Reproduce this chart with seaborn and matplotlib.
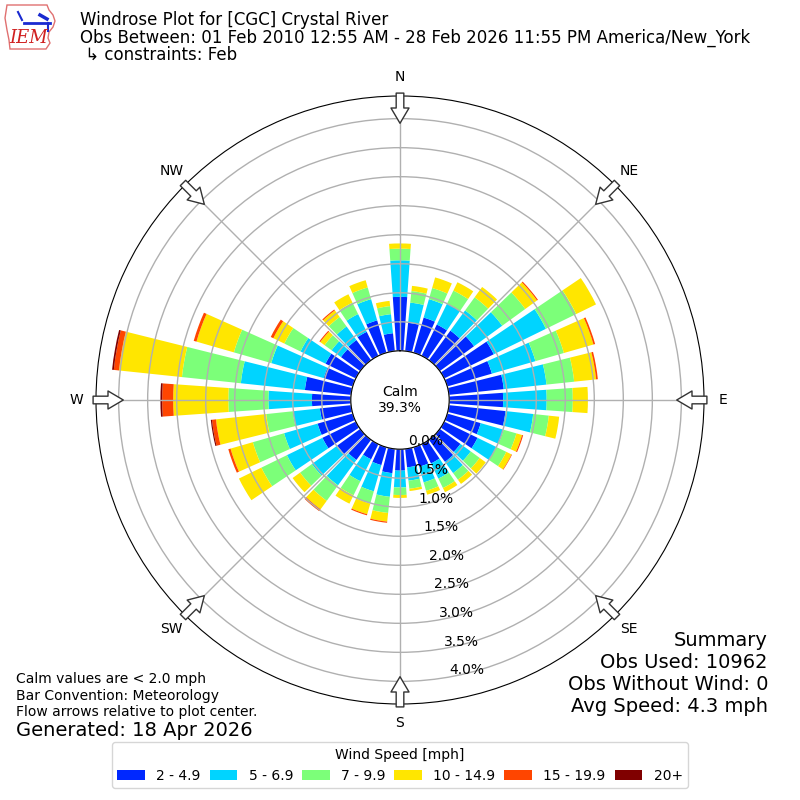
import numpy as np
import pandas as pd
import matplotlib
matplotlib.use("Agg")
import matplotlib.pyplot as plt
from matplotlib.patches import Patch, Polygon
from matplotlib.lines import Line2D
import seaborn as sns

# wind direction bins (degrees, meteorological "from")
directions = list(range(0, 360, 10))
speed_bins = ["2 - 4.9", "5 - 6.9", "7 - 9.9", "10 - 14.9", "15 - 19.9", "20+"]
speed_colors = ["#0028ff", "#00d4ff", "#7cff79", "#ffe600", "#ff4500", "#800000"]

# percent of observations per direction, one list per speed bin
pct_2_5 = [0.93, 0.49, 0.63, 0.60, 0.63, 0.73, 0.95, 0.80, 0.95, 0.93, 0.98, 0.60,
           0.64, 0.44, 0.47, 0.37, 0.35, 0.32, 0.37, 0.42, 0.32, 0.29, 0.43, 0.49,
           0.64, 0.63, 0.54, 0.67, 0.80, 0.52, 0.58, 0.41, 0.43, 0.46, 0.58, 0.31]
pct_5_7 = [0.63, 0.35, 0.33, 0.40, 0.43, 0.60, 1.00, 0.78, 0.74, 0.75, 0.48, 0.41,
           0.36, 0.22, 0.24, 0.29, 0.28, 0.23, 0.29, 0.41, 0.47, 0.42, 0.54, 0.54,
           0.68, 0.60, 0.47, 0.75, 1.11, 0.94, 0.48, 0.20, 0.29, 0.34, 0.38, 0.33]
pct_7_10 = [0.20, 0.20, 0.20, 0.25, 0.28, 0.49, 0.58, 0.51, 0.48, 0.45, 0.27, 0.23,
            0.19, 0.19, 0.14, 0.18, 0.15, 0.14, 0.13, 0.28, 0.22, 0.27, 0.33, 0.25,
            0.49, 0.56, 0.46, 0.69, 1.02, 0.67, 0.31, 0.15, 0.20, 0.22, 0.21, 0.14]
pct_10_15 = [0.09, 0.09, 0.19, 0.16, 0.22, 0.25, 0.38, 0.53, 0.38, 0.26, 0.18, 0.10,
             0.10, 0.13, 0.09, 0.08, 0.07, 0.04, 0.05, 0.15, 0.19, 0.16, 0.18, 0.16,
             0.43, 0.40, 0.87, 0.95, 1.09, 0.67, 0.21, 0.09, 0.14, 0.16, 0.13, 0.09]
pct_15_20 = [0, 0, 0, 0, 0, 0.02, 0, 0.03, 0.03, 0, 0, 0.02,
             0.01, 0, 0, 0, 0, 0, 0, 0.02, 0.02, 0, 0.04, 0,
             0, 0.04, 0.07, 0.19, 0.09, 0.05, 0.05, 0.02, 0.02, 0, 0, 0]
pct_20 = [0, 0, 0, 0, 0, 0, 0, 0, 0, 0, 0, 0,
          0, 0, 0, 0, 0, 0, 0, 0, 0, 0, 0, 0,
          0, 0, 0.02, 0.03, 0.03, 0, 0, 0, 0, 0, 0, 0]

calm_pct = 39.3
rticks = [0.0, 0.5, 1.0, 1.5, 2.0, 2.5, 3.0, 3.5, 4.0]
compass = ["N", "NE", "E", "SE", "S", "SW", "W", "NW"]
compass_deg = [0, 45, 90, 135, 180, 225, 270, 315]

rows = []
for label, vals in zip(speed_bins, [pct_2_5, pct_5_7, pct_7_10, pct_10_15, pct_15_20, pct_20]):
    for d, v in zip(directions, vals):
        rows.append({"dir": np.deg2rad(d), "speed": label, "pct": v})
df = pd.DataFrame(rows)

fig = plt.figure(figsize=(8, 8), dpi=100)
ax = fig.add_axes([0.12, 0.12, 0.76, 0.76], projection="polar")
ax.set_theta_zero_location("N")
ax.set_theta_direction(-1)

edges = [float(e) for e in np.deg2rad(np.arange(-5, 360, 10))]
sns.histplot(data=df, x="dir", weights="pct", hue="speed",
             hue_order=speed_bins[::-1],
             palette=dict(zip(speed_bins, speed_colors)),
             multiple="stack", bins=edges, shrink=0.8, alpha=1,
             linewidth=0, edgecolor="none", legend=False, ax=ax)

ax.set_ylim(0, 4.39)
ax.set_rorigin(-0.847)
ax.set_xlabel("")
ax.set_ylabel("")
ax.set_xticks(np.deg2rad(compass_deg))
ax.set_xticklabels(compass, fontsize=10)
ax.tick_params(axis="x", pad=3.5)
ax.set_yticks(rticks)
ax.set_yticklabels([])
ax.grid(True, color="#b0b0b0", lw=1)

for r in rticks:
    ax.text(np.deg2rad(170), r, f"{r:.1f}%", ha="left", va="bottom", fontsize=10)

ax.text(0.5, 0.5, f"Calm\n{calm_pct:.1f}%", transform=ax.transAxes,
        ha="center", va="center", fontsize=10)

# flow arrows pointing toward the centre
for d in compass_deg:
    t = np.deg2rad(d)
    ax.annotate("", xy=(t, 3.92), xytext=(t, 4.44),
                arrowprops=dict(arrowstyle="simple,head_length=1.1,head_width=1.3,tail_width=0.55",
                                fc="white", ec="#333333", lw=1, shrinkA=0, shrinkB=0,
                                mutation_scale=10),
                annotation_clip=False, zorder=5)

# header
fig.text(0.1, 0.975, "Windrose Plot for [CGC] Crystal River", fontsize=12, va="center")
fig.text(0.1, 0.953, "Obs Between: 01 Feb 2010 12:55 AM - 28 Feb 2026 11:55 PM America/New_York",
         fontsize=12, va="center")
fig.text(0.1, 0.931, " \u21b3 constraints: Feb", fontsize=12, va="center")

# rough IEM logo (state outline, station glyph, text)
logo_px = [(7, 5), (47, 5), (49, 10), (53, 15), (55, 21), (53, 27), (49, 32),
           (48, 38), (50, 43), (46, 49), (10, 49), (9, 40), (7, 30), (5, 18)]
outline = Polygon([(x / 800, 1 - y / 800) for x, y in logo_px], closed=True,
                  fill=False, ec="#e07070", lw=1, transform=fig.transFigure)
fig.patches.append(outline)
fig.lines.append(Line2D([24 / 800, 50 / 800], [1 - 23 / 800, 1 - 23 / 800],
                        color="#1a2ad0", lw=2, transform=fig.transFigure))
fig.lines.append(Line2D([18 / 800, 22 / 800], [1 - 12 / 800, 1 - 20 / 800],
                        color="#1a2ad0", lw=1.5, transform=fig.transFigure))
fig.lines.append(Line2D([40 / 800, 47 / 800], [1 - 15 / 800, 1 - 19 / 800],
                        color="#1a2ad0", lw=2.5, transform=fig.transFigure))
fig.lines.append(Line2D([48 / 800, 48 / 800], [1 - 23 / 800, 1 - 31 / 800],
                        color="#1a2ad0", lw=1.5, transform=fig.transFigure))
fig.text(29 / 800, 1 - 38 / 800, "IEM", color="#d02020", fontsize=13, family="serif",
         style="italic", ha="center", va="center")

# footers
fig.text(0.02, 0.151, "Calm values are < 2.0 mph", fontsize=10, va="center")
fig.text(0.02, 0.130, "Bar Convention: Meteorology", fontsize=10, va="center")
fig.text(0.02, 0.110, "Flow arrows relative to plot center.", fontsize=10, va="center")
fig.text(0.02, 0.0875, "Generated: 18 Apr 2026", fontsize=14, va="center")

fig.text(0.96, 0.200, "Summary", fontsize=14, ha="right", va="center")
fig.text(0.96, 0.1725, "Obs Used: 10962", fontsize=14, ha="right", va="center")
fig.text(0.96, 0.145, "Obs Without Wind: 0", fontsize=14, ha="right", va="center")
fig.text(0.96, 0.1175, "Avg Speed: 4.3 mph", fontsize=14, ha="right", va="center")

handles = [Patch(facecolor=c, label=l) for l, c in zip(speed_bins, speed_colors)]
fig.legend(handles=handles, loc="lower center", bbox_to_anchor=(0.5, 0.006), ncol=6,
           title="Wind Speed [mph]", fontsize=10, title_fontsize=10,
           handlelength=2.0, handleheight=0.7, handletextpad=0.8, columnspacing=0.65)

fig.savefig("out.png", dpi=100)
